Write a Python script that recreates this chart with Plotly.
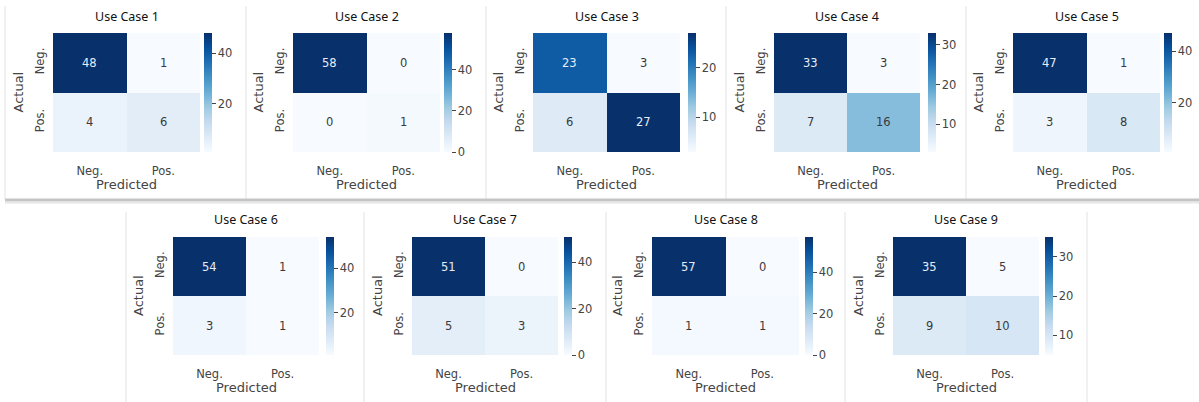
import plotly.graph_objects as go

# ---- data -------------------------------------------------------------
class_labels = ["Neg.", "Pos."]
case_titles = ["Use Case 1", "Use Case 2", "Use Case 3", "Use Case 4", "Use Case 5",
               "Use Case 6", "Use Case 7", "Use Case 8", "Use Case 9"]

cm_case1 = [[48, 1], [4, 6]]
cm_case2 = [[58, 0], [0, 1]]
cm_case3 = [[23, 3], [6, 27]]
cm_case4 = [[33, 3], [7, 16]]
cm_case5 = [[47, 1], [3, 8]]
cm_case6 = [[54, 1], [3, 1]]
cm_case7 = [[51, 0], [5, 3]]
cm_case8 = [[57, 0], [1, 1]]
cm_case9 = [[35, 5], [9, 10]]

matrices = [cm_case1, cm_case2, cm_case3, cm_case4, cm_case5,
            cm_case6, cm_case7, cm_case8, cm_case9]

colorbar_ticks = [[20, 40], [0, 20, 40], [10, 20], [10, 20, 30], [20, 40],
                  [20, 40], [0, 20, 40], [0, 20, 40], [10, 20, 30]]

# ---- layout geometry (pixels) -----------------------------------------
W, H = 1199, 402
# (left, right, top, bottom, colorbar_left) of each heatmap
boxes = [
    (53, 200, 33, 152, 204),
    (293, 440, 33, 152, 444),
    (533, 680, 33, 152, 688),
    (774, 920, 33, 152, 928),
    (1013, 1160, 33, 152, 1164),
    (173, 319, 237, 355, 326),
    (412, 558, 237, 355, 564),
    (652, 799, 237, 355, 805),
    (893, 1039, 237, 355, 1045),
]

BLUES = [[0.0, "#f7fbff"], [0.125, "#deebf7"], [0.25, "#c6dbef"], [0.375, "#9ecae1"],
         [0.5, "#6baed6"], [0.625, "#4292c6"], [0.75, "#2171b5"], [0.875, "#08519c"],
         [1.0, "#08306b"]]

LABEL_FONT = "DejaVu Sans"
TITLE_FONT = "Noto Sans"
GREY = "#444444"


def fx(p):
    return p / W


def fy(p):
    return 1 - p / H


fig = go.Figure()
annotations = []
shapes = []
layout_axes = {}

for i, (cm, title, ticks, box) in enumerate(zip(matrices, case_titles, colorbar_ticks, boxes)):
    k = i + 1
    left, right, top, bottom, cb_left = box
    flat = [v for row in cm for v in row]
    zmin, zmax = min(flat), max(flat)
    xa = "x" if k == 1 else f"x{k}"
    ya = "y" if k == 1 else f"y{k}"

    fig.add_trace(go.Heatmap(
        z=cm, x=class_labels, y=class_labels,
        colorscale=BLUES, zmin=zmin, zmax=zmax,
        xaxis=xa, yaxis=ya, hoverinfo="skip",
        colorbar=dict(
            x=fx(cb_left), xanchor="left",
            y=(fy(top) + fy(bottom)) / 2, yanchor="middle",
            len=(bottom - top) / H, lenmode="fraction",
            thickness=8, outlinewidth=0, xpad=0, ypad=0,
            tickvals=ticks, ticks="outside", ticklen=4, tickwidth=1,
            tickcolor=GREY,
            tickfont=dict(family=LABEL_FONT, size=11.5, color=GREY),
        ),
    ))

    xname = "xaxis" if k == 1 else f"xaxis{k}"
    yname = "yaxis" if k == 1 else f"yaxis{k}"
    layout_axes[xname] = dict(
        domain=[fx(left), fx(right)], anchor=ya, type="category",
        showgrid=False, zeroline=False, showline=False, ticks="",
        ticklabelstandoff=10,
        tickfont=dict(family=LABEL_FONT, size=11.5, color=GREY),
    )
    layout_axes[yname] = dict(
        domain=[fy(bottom), fy(top)], anchor=xa, type="category",
        autorange="reversed", showgrid=False, zeroline=False, showline=False,
        ticks="", tickangle=-90, ticklabelstandoff=6,
        tickfont=dict(family=LABEL_FONT, size=11.5, color=GREY),
    )

    # cell counts
    for r, row in enumerate(cm):
        for c, v in enumerate(row):
            t = (v - zmin) / (zmax - zmin) if zmax > zmin else 0
            annotations.append(dict(
                x=class_labels[c], y=class_labels[r], xref=xa, yref=ya,
                text=str(v), showarrow=False,
                font=dict(family=LABEL_FONT, size=11.5,
                          color="#e6edf8" if t > 0.6 else "#3a3a3a"),
            ))

    cx = (left + right) / 2
    cy = (top + bottom) / 2
    title_y = 17 if k <= 5 else 220
    annotations.append(dict(
        x=fx(cx), y=fy(title_y), xref="paper", yref="paper",
        text=title, showarrow=False, xanchor="center", yanchor="middle",
        font=dict(family=TITLE_FONT, size=12.5, color="#111111"),
    ))
    annotations.append(dict(
        x=fx(cx), y=fy(bottom + 32), xref="paper", yref="paper",
        text="Predicted", showarrow=False, xanchor="center", yanchor="middle",
        font=dict(family=LABEL_FONT, size=13, color=GREY),
    ))
    annotations.append(dict(
        x=fx(left - 35), y=fy(cy), xref="paper", yref="paper",
        text="Actual", showarrow=False, textangle=-90,
        xanchor="center", yanchor="middle",
        font=dict(family=LABEL_FONT, size=13, color=GREY),
    ))

# panel frames
for xs in [5, 246, 486, 726, 966]:
    shapes.append(dict(type="line", xref="paper", yref="paper",
                       x0=fx(xs), x1=fx(xs), y0=fy(6), y1=fy(199),
                       line=dict(color="#e2e2e2", width=1)))
shapes.append(dict(type="line", xref="paper", yref="paper",
                   x0=fx(5), x1=1, y0=fy(200), y1=fy(200),
                   line=dict(color="#c4c4c4", width=3)))
shapes.append(dict(type="line", xref="paper", yref="paper",
                   x0=fx(5), x1=1, y0=fy(202.5), y1=fy(202.5),
                   line=dict(color="#e6e6e6", width=2)))
for xs in [126, 364, 606, 845, 1087]:
    shapes.append(dict(type="line", xref="paper", yref="paper",
                       x0=fx(xs), x1=fx(xs), y0=fy(212), y1=0,
                       line=dict(color="#e2e2e2", width=1)))

fig.update_layout(
    width=W, height=H,
    margin=dict(l=0, r=0, t=0, b=0),
    paper_bgcolor="white", plot_bgcolor="white",
    showlegend=False,
    annotations=annotations,
    shapes=shapes,
    **layout_axes,
)

fig.write_html("out.html")
